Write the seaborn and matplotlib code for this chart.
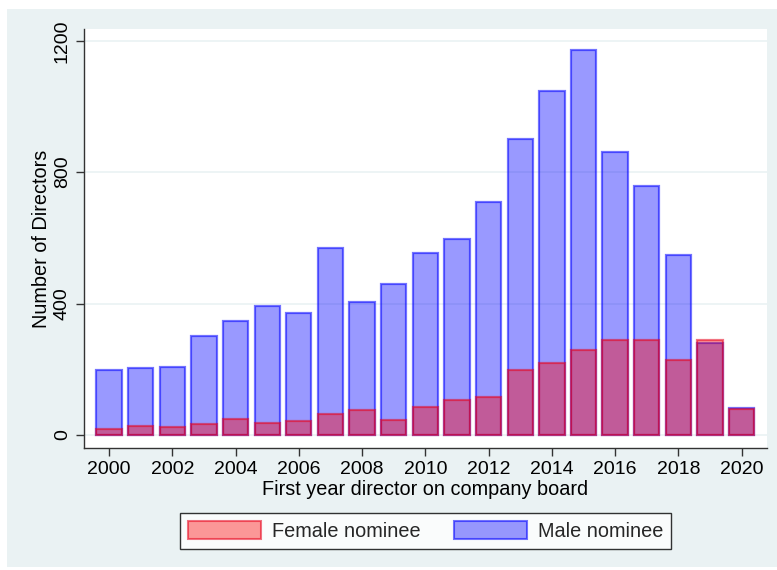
import matplotlib
matplotlib.use("Agg")
import matplotlib.pyplot as plt
import matplotlib.patches as mpatches
import seaborn as sns
import pandas as pd
import numpy as np

years = list(range(2000, 2021))
male = [198, 204, 207, 301, 347, 393, 372, 570, 405, 460, 554, 597, 710, 902,
        1048, 1173, 862, 758, 548, 279, 83]
female = [19, 27, 24, 33, 49, 37, 42, 63, 77, 46, 85, 106, 114, 199,
          220, 258, 290, 289, 229, 290, 78]
xticks = list(range(2000, 2021, 2))
yticks = [0, 400, 800, 1200]

sns.set_theme(style="white")
plt.rcParams['font.family'] = ['Liberation Sans', 'DejaVu Sans']

panel = "#EAF2F3"
fig = plt.figure(figsize=(7.77, 5.70), dpi=100)
fig.patch.set_facecolor("white")
fig.patches.append(mpatches.Rectangle((7/777, 3/570), 770/777, 558/570,
                                      transform=fig.transFigure, facecolor=panel,
                                      edgecolor="none", zorder=-10))
ax = fig.add_axes([84/777, 1 - 448/570, (767-84)/777, (448-29)/570])
ax.set_facecolor("white")

df = pd.DataFrame({"year": years, "male": male, "female": female})

male_face = (0, 0, 1, 0.4)
male_edge = (0, 0, 1, 0.55)
fem_face = (1, 0, 0, 0.4)
fem_edge = (0.9, 0, 0.1, 0.55)

sns.barplot(data=df, x="year", y="male", native_scale=True, width=0.8,
            ax=ax, color="blue", errorbar=None, zorder=2)
n_male = len(ax.patches)
sns.barplot(data=df, x="year", y="female", native_scale=True, width=0.8,
            ax=ax, color="red", errorbar=None, zorder=3)
for i, p in enumerate(ax.patches):
    if i < n_male:
        p.set_facecolor(male_face)
        p.set_edgecolor(male_edge)
    else:
        p.set_facecolor(fem_face)
        p.set_edgecolor(fem_edge)
    p.set_linewidth(1.6)

ax.set_xlim(1999.21, 2020.80)
ax.set_ylim(-40, 1236)
ax.set_xticks(xticks)
ax.set_xticklabels([str(t) for t in xticks], fontsize=14, color="black")
ax.set_yticks(yticks)
ax.set_yticklabels([str(t) for t in yticks], fontsize=14, color="black",
                   rotation=90, va="center")
for t in yticks:
    ax.axhline(t, color=panel, lw=1.2, zorder=1)

for s in ["top", "right"]:
    ax.spines[s].set_visible(False)
for s in ["left", "bottom"]:
    ax.spines[s].set_color("#333333")
    ax.spines[s].set_linewidth(1.0)
ax.tick_params(axis="both", which="major", length=5.5, width=1, color="#333333",
               direction="out", bottom=True, left=True, pad=4)

ax.set_xlabel("First year director on company board", fontsize=14.3, labelpad=1,
              color="black")
ax.set_ylabel("Number of Directors", fontsize=14.3, labelpad=2, color="black")

handles = [mpatches.Patch(facecolor=fem_face, edgecolor=fem_edge, lw=1.5,
                          label="Female nominee"),
           mpatches.Patch(facecolor=male_face, edgecolor=male_edge, lw=1.5,
                          label="Male nominee")]
leg = fig.legend(handles=handles, loc="center", ncol=2,
                 bbox_to_anchor=(425.5/777, 1 - 531/570), frameon=True,
                 fontsize=14.3, handlelength=3.7, handleheight=1.0,
                 columnspacing=1.65, handletextpad=0.55, borderpad=0.4,
                 borderaxespad=0, fancybox=False)
leg.get_frame().set_edgecolor("black")
leg.get_frame().set_linewidth(1.0)
leg.get_frame().set_facecolor("white")

fig.savefig("out.png", dpi=100, facecolor=fig.get_facecolor())
